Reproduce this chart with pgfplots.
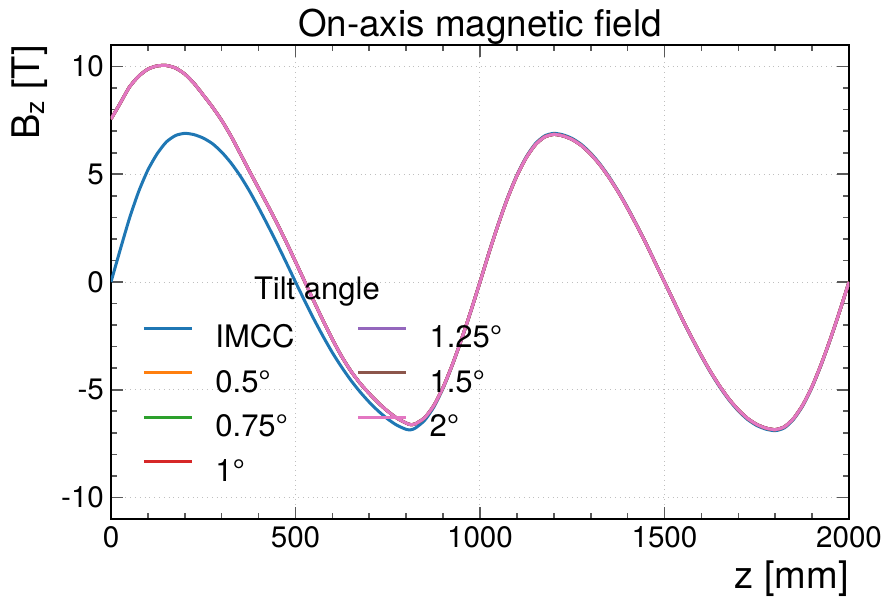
\documentclass[border=0pt]{standalone}
\usepackage{fontspec}
\setmainfont{TeX Gyre Heros}
\usepackage{pgfplots}
\usepackage{pgfplotstable}
\pgfplotsset{compat=1.18}
\definecolor{cB}{HTML}{1F77B4}
\definecolor{cO}{HTML}{FF7F0E}
\definecolor{cG}{HTML}{2CA02C}
\definecolor{cR}{HTML}{D62728}
\definecolor{cP}{HTML}{9467BD}
\definecolor{cBr}{HTML}{8C564B}
\definecolor{cPk}{HTML}{E377C2}
\pgfplotstableread{
z imcc tilt
0 0.00 7.56
25 1.50 8.30
50 2.95 9.05
75 4.20 9.55
100 5.20 9.88
125 5.95 10.03
150 6.50 10.05
175 6.80 9.93
200 6.90 9.65
225 6.84 9.22
250 6.68 8.68
275 6.42 8.12
300 6.03 7.50
325 5.53 6.78
350 4.93 5.97
375 4.23 5.15
400 3.45 4.35
425 2.63 3.55
450 1.78 2.72
475 0.90 1.85
500 0.00 0.94
525 -0.88 0.02
550 -1.73 -0.90
575 -2.53 -1.80
600 -3.28 -2.66
625 -3.95 -3.45
650 -4.56 -4.13
675 -5.10 -4.70
700 -5.58 -5.18
725 -6.00 -5.62
750 -6.36 -6.00
775 -6.65 -6.32
800 -6.84 -6.55
812 -6.86 -6.62
825 -6.78 -6.58
850 -6.42 -6.30
875 -5.80 -5.73
900 -4.93 -4.89
925 -3.86 -3.84
950 -2.66 -2.65
975 -1.37 -1.36
1000 0.00 0.00
1025 1.40 1.39
1050 2.72 2.70
1075 3.93 3.90
1100 4.96 4.93
1125 5.80 5.76
1150 6.42 6.37
1175 6.78 6.73
1200 6.90 6.85
1225 6.83 6.78
1250 6.66 6.61
1275 6.38 6.33
1300 5.98 5.93
1325 5.48 5.44
1350 4.88 4.84
1375 4.20 4.17
1400 3.45 3.42
1425 2.64 2.62
1450 1.79 1.78
1475 0.90 0.89
1500 0.00 0.00
1525 -0.90 -0.89
1550 -1.79 -1.78
1575 -2.64 -2.62
1600 -3.45 -3.42
1625 -4.20 -4.17
1650 -4.88 -4.84
1675 -5.48 -5.44
1700 -5.98 -5.93
1725 -6.38 -6.33
1750 -6.66 -6.61
1775 -6.83 -6.78
1800 -6.90 -6.85
1825 -6.77 -6.72
1850 -6.37 -6.33
1875 -5.74 -5.70
1900 -4.88 -4.85
1925 -3.83 -3.80
1950 -2.64 -2.62
1975 -1.35 -1.34
2000 0.00 0.00
}\fielddata
\begin{document}
\begin{tikzpicture}
\begin{axis}[
  name=ax,
  scale only axis, width=369pt, height=237pt,
  xmin=0, xmax=2000, ymin=-11, ymax=11,
  xtick={0,500,1000,1500,2000}, ytick={-10,-5,0,5,10},
  minor x tick num=4, minor y tick num=4,
  tick align=inside, major tick length=6pt, minor tick length=3pt,
  every tick/.style={black!65, line width=0.8pt},
  axis line style={line width=1.1pt},
  grid=major, major grid style={dotted, black!25, line width=0.5pt},
  /pgf/number format/assume math mode=true,
  /pgf/number format/1000 sep={},
  scaled ticks=false,
  tick label style={font=\fontsize{14.8}{16}\selectfont},
  every axis title shift=0pt,
  title={On-axis magnetic field},
  title style={font=\fontsize{18.4}{20}\selectfont, inner sep=0pt, at={(axis description cs:0.5,1)}, anchor=base, yshift=4.5pt},
  xlabel={z [mm]},
  xlabel style={font=\fontsize{19}{21}\selectfont, at={(axis description cs:1,0)}, anchor=north east, inner sep=0pt, yshift=-20.5pt},
  ylabel={B\textsubscript{z} [T]},
  ylabel style={font=\fontsize{19}{21}\selectfont, at={(axis description cs:-0.085,1)}, anchor=south east, inner sep=0pt},
  legend columns=2,
  legend cell align=left,
  legend image code/.code={\draw[#1] (0pt,5.5pt) -- (24pt,5.5pt);},
  legend style={at={(0.042,0.411)}, anchor=north west, draw=none, fill=none, inner sep=0pt,
    font=\fontsize{15.5}{17}\selectfont,
    nodes={inner sep=0pt, text height=11.5pt, text depth=3pt},
    row sep=7.8pt,
    /tikz/every odd column/.append style={column sep=11pt},
    /tikz/every even column/.append style={column sep=31pt}},
]
\addplot[forget plot, cB, line width=1.5pt, smooth, tension=0.4] table[x=z, y=imcc] {\fielddata};
\addplot[forget plot, cO, line width=1.5pt, smooth, tension=0.4] table[x=z, y=tilt] {\fielddata};
\addplot[forget plot, cG, line width=1.5pt, smooth, tension=0.4] table[x=z, y=tilt] {\fielddata};
\addplot[forget plot, cR, line width=1.5pt, smooth, tension=0.4] table[x=z, y=tilt] {\fielddata};
\addplot[forget plot, cP, line width=1.5pt, smooth, tension=0.4] table[x=z, y=tilt] {\fielddata};
\addplot[forget plot, cBr, line width=1.5pt, smooth, tension=0.4] table[x=z, y=tilt] {\fielddata};
\addplot[forget plot, cPk, line width=1.5pt, smooth, tension=0.4] table[x=z, y=tilt] {\fielddata};
\addlegendimage{cB, line width=1.5pt}\addlegendentry{IMCC}
\addlegendimage{cP, line width=1.5pt}\addlegendentry{1.25°}
\addlegendimage{cO, line width=1.5pt}\addlegendentry{0.5°}
\addlegendimage{cBr, line width=1.5pt}\addlegendentry{1.5°}
\addlegendimage{cG, line width=1.5pt}\addlegendentry{0.75°}
\addlegendimage{cPk, line width=1.5pt}\addlegendentry{2°}
\addlegendimage{cR, line width=1.5pt}\addlegendentry{1°}
\node[font=\fontsize{15.5}{17}\selectfont, inner sep=0pt] at (rel axis cs:0.279,0.479) {Tilt angle};
\end{axis}
\pgfresetboundingbox
\path[use as bounding box] ([shift={(-55.5pt,-38.5pt)}]ax.south west) rectangle ([shift={(20pt,22.5pt)}]ax.north east);
\end{tikzpicture}
\end{document}
